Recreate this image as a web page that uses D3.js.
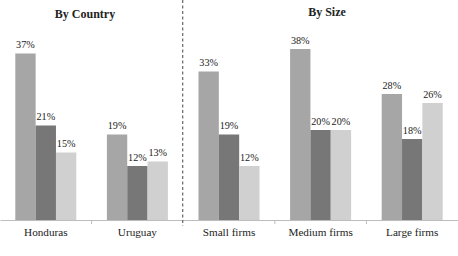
<!DOCTYPE html>
<html>
<head>
<meta charset="utf-8">
<script src="https://cdn.jsdelivr.net/npm/d3@7"></script>
<style>
  body { margin: 0; background: #fff; }
  text { font-family: "Liberation Serif", "Times New Roman", serif; fill: #222; }
</style>
</head>
<body>
<svg id="chart" width="458" height="256"></svg>
<script>
var categories = ["Honduras", "Uruguay", "Small firms", "Medium firms", "Large firms"];
var seriesA = [37, 19, 33, 38, 28];
var seriesB = [21, 12, 19, 20, 18];
var seriesC = [15, 13, 12, 20, 26];
var seriesNames = ["a", "b", "c"];
var seriesColors = ["#a6a6a6", "#777777", "#d0d0d0"];
var titles = [{text: "By Country", x: 85}, {text: "By Size", x: 327}];

var svg = d3.select("#chart");
var baseY = 220;

var x = d3.scaleBand().domain(categories).range([0, 458]);
var pad = 15.3;
var x1 = d3.scaleBand().domain(seriesNames).range([pad, x.bandwidth() - pad]);
var y = d3.scaleLinear().domain([0, 40]).range([baseY, baseY - 180]);

var rows = categories.map(function(c, i) {
    return {cat: c, vals: [seriesA[i], seriesB[i], seriesC[i]]};
});

// axis line + labels
var axis = svg.append("g")
    .attr("transform", "translate(0," + baseY + ")")
    .call(d3.axisBottom(x).tickSize(0).tickPadding(8));
axis.select(".domain").attr("stroke", "#bdbdbd");
axis.selectAll("text")
    .attr("font-size", "11.2px")
    .style("font-family", "'Liberation Serif', serif")
    .attr("fill", "#222");

// tick marks between groups (skip the divider)
var bounds = categories.slice(1).map(function(c) { return x(c); });
svg.selectAll(".sep").data(bounds.filter(function(d, i) { return i !== 1; }))
  .enter().append("line")
    .attr("x1", function(d) { return d; }).attr("x2", function(d) { return d; })
    .attr("y1", baseY).attr("y2", baseY + 4)
    .attr("stroke", "#bdbdbd");

// dashed divider
svg.append("line")
    .attr("x1", x(categories[2]) - 0.5).attr("x2", x(categories[2]) - 0.5)
    .attr("y1", 0).attr("y2", baseY + 6)
    .attr("stroke", "#666").attr("stroke-width", 1.2)
    .attr("stroke-dasharray", "3,2.5");

var groups = svg.selectAll(".grp").data(rows).enter().append("g")
    .attr("transform", function(d) { return "translate(" + x(d.cat) + ",0)"; });

groups.selectAll("rect").data(function(d) { return d.vals; }).enter().append("rect")
    .attr("x", function(d, i) { return x1(seriesNames[i]); })
    .attr("y", function(d) { return y(d); })
    .attr("width", x1.bandwidth())
    .attr("height", function(d) { return baseY - y(d); })
    .attr("fill", function(d, i) { return seriesColors[i]; });

groups.selectAll(".lbl").data(function(d) { return d.vals; }).enter().append("text")
    .attr("class", "lbl")
    .attr("x", function(d, i) { return x1(seriesNames[i]) + x1.bandwidth() / 2; })
    .attr("y", function(d) { return y(d) - 5.5; })
    .attr("text-anchor", "middle")
    .attr("font-size", "10.2px")
    .text(function(d) { return d + "%"; });

svg.selectAll(".title").data(titles).enter().append("text")
    .attr("x", function(d) { return d.x; })
    .attr("y", function(d, i) { return i === 0 ? 18 : 16; })
    .attr("text-anchor", "middle")
    .attr("font-size", "12px")
    .attr("font-weight", "bold")
    .text(function(d) { return d.text; });
</script>
</body>
</html>
